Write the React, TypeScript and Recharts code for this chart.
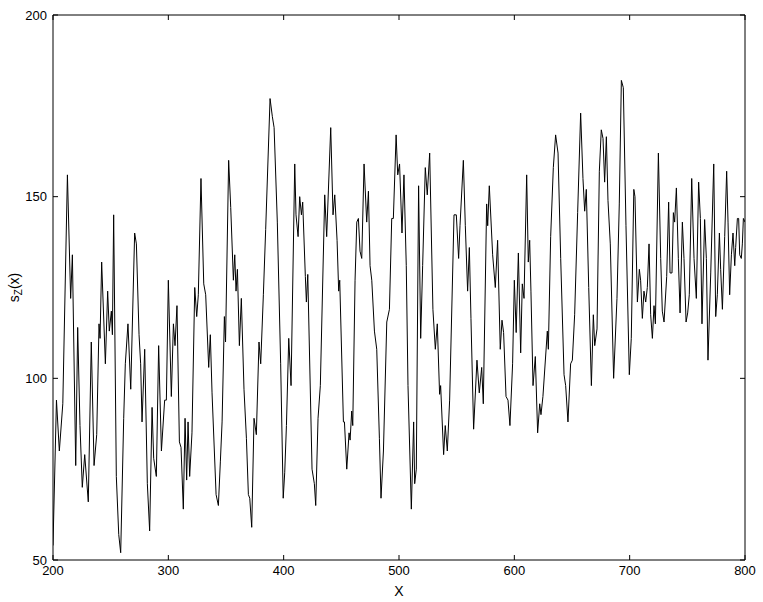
import { Line, LineChart, ReferenceArea, XAxis, YAxis } from "recharts";

const xTicks = [200, 300, 400, 500, 600, 700, 800];
const yTicks = [50, 100, 150, 200];

// position along x at each turning point
const xValues = [
  200, 203, 205.5, 208.5, 212.5, 215.3, 216.8, 219.7, 221.4, 223.4, 225.4,
  227.5, 230.6, 233.2, 235.6, 237.9, 239.9, 240.8, 242.2, 245.4, 247.4, 248.8,
  250.6, 251.5, 252.6, 254.9, 257, 258.7, 261.3, 262.7, 265, 267.4, 270.8,
  272.3, 274.6, 276, 277.2, 279.5, 281.8, 283.8, 285.9, 287.3, 289.6, 291.6,
  294, 296.8, 298.3, 300, 302.6, 304.4, 305.8, 307.5, 309.6, 311, 313, 314.5,
  315.9, 317.1, 318.5, 320.5, 322.9, 324.6, 326, 328.3, 330.7, 332.4, 335,
  336.4, 337.9, 339.9, 341.4, 343.4, 345.1, 346.6, 348.6, 349.6, 352.3, 354.1,
  356.4, 357.6, 358.7, 359.9, 361.6, 363.3, 365.6, 367.7, 369.4, 370.6, 372.3,
  374.3, 376.3, 378.6, 380.1, 382.4, 384.4, 388.2, 390.2, 391.7, 394.5, 397.4,
  399.6, 400.9, 402.4, 404.4, 406.4, 409.6, 410.7, 412.5, 413.9, 415.4, 416.5,
  418.8, 419.7, 420.9, 424.6, 426.6, 427.8, 429.8, 431.8, 435.6, 437.3, 440.8,
  442.8, 444.3, 446.3, 447.7, 448.6, 451.8, 452.7, 454.7, 456.7, 457.6, 459,
  459.9, 461.9, 463.4, 464.8, 466.2, 467.7, 469.7, 472, 473.5, 474.9, 476.4,
  478.7, 480.7, 483, 484.4, 486.5, 489.4, 491.7, 493.7, 495.1, 497.5, 498.9,
  500.5, 502.6, 504.3, 506.3, 507.8, 510.7, 512.7, 513.6, 515, 517, 518.8,
  520.5, 522.8, 524.5, 526.6, 529.4, 531.5, 533.2, 535.2, 536.1, 538.7, 540.1,
  541.9, 543.9, 547.7, 549.7, 551.7, 552.9, 555.8, 557.5, 559.5, 561, 562.4,
  564.7, 567.6, 569.6, 571.7, 573.1, 576, 576.9, 578.3, 581.2, 583.5, 585.5,
  587.8, 589.3, 590.7, 592.8, 594.5, 596.2, 598.5, 600, 601.6, 603.5, 605.5,
  606.9, 608.4, 610.7, 612.1, 613.3, 614.4, 616.2, 618.2, 620.2, 622, 623.1,
  624.8, 628.6, 629.5, 631.5, 633.8, 635.8, 637.9, 640.2, 643.1, 644.5, 646.5,
  648.8, 650.3, 652.3, 654.9, 657.5, 659.5, 661, 662.4, 664.5, 666.8, 668.5,
  669.7, 671.7, 673.7, 675.4, 676.9, 678.3, 679.8, 681.2, 683.2, 686.1, 689,
  691, 692.8, 694.5, 696.8, 699.7, 701.4, 703.6, 704.6, 706.7, 708.4, 709.5,
  711, 712.4, 713.9, 715.3, 716.8, 718.2, 719.7, 721.1, 722.3, 724.9, 726.9,
  728.3, 729.8, 732.1, 733.8, 735, 736.7, 737.9, 739, 740.5, 742.2, 743.7,
  745.7, 747.1, 748.9, 750.3, 751.7, 753.8, 755.8, 757.8, 759.8, 761.3, 762.7,
  765, 766.5, 767.9, 770.3, 772.9, 774.6, 776, 777.8, 778.9, 780.4, 782.4,
  784.1, 785.3, 786.7, 788.2, 789.6, 791.1, 791.9, 793.4, 794.5, 795.4, 796.8,
  797.7, 798.6, 800,
];

// s_Z(x) at the same positions
const szValues = [
  54, 94, 80, 93, 156, 122, 134, 76, 114, 87, 70,
  79, 66, 110, 76, 84.5, 115, 111, 132, 104, 124, 113,
  118.5, 112, 145, 73, 57, 52, 89, 104, 115, 97, 140,
  137, 112, 104, 88, 108, 71, 58, 92, 78, 73, 109,
  80, 94, 94, 127, 95, 115, 109, 120, 82.5, 81, 64, 89,
  72, 88, 73, 85, 125, 117, 123, 155, 126, 123, 103,
  112, 96, 80, 68, 65, 77, 88, 117, 110, 160, 147,
  127, 134, 124, 130, 109, 122, 97, 83.5, 68, 67, 59,
  89, 84.5, 110, 104, 123, 141, 177, 172, 169, 143, 104,
  67, 74, 87, 111, 98, 159, 145, 139, 150, 145, 148.5,
  128, 121, 128.6, 75, 71, 65, 89, 98, 150.5, 139, 169,
  145, 150.5, 138, 124, 127, 88, 88, 75, 85, 83, 91,
  87, 127, 143, 144, 135, 133, 159, 143, 151.5, 131, 127,
  113, 108, 83.5, 67, 80, 115.5, 119, 144, 144, 167, 156,
  159, 140, 156, 131, 98, 64, 88, 71, 75, 153, 111,
  131, 158, 150.5, 162, 119, 108, 115, 95.6, 98, 79, 87,
  80, 94, 145, 145, 133, 142, 160, 142, 124, 136, 116.5,
  86, 105, 96, 103, 93, 148, 142, 153, 134, 125, 138,
  108, 116, 112.6, 95, 94, 87, 104, 127, 112.6, 134.5, 107,
  126, 122, 156, 132, 138, 124, 98, 106, 85, 93, 90,
  95, 113, 108, 139, 158, 167, 162, 133, 101, 98, 88,
  104, 105, 117.5, 145.6, 173, 155, 146, 152, 125, 98, 117.5,
  109, 113.6, 157, 168.4, 166, 154, 166.5, 149, 137, 100, 122,
  148, 182, 180, 142, 101, 111, 152, 150, 121, 130, 127,
  116.5, 124, 121, 125, 137, 117.5, 111, 120, 115, 162, 133,
  118.5, 115.5, 128, 148.5, 129, 129, 145.6, 143, 152.4, 133, 118,
  143, 133, 115.5, 118, 123, 155, 133, 122, 154, 144, 115,
  143.7, 133, 105, 129, 159, 117, 123, 140, 130, 119, 139,
  157, 143, 123, 134, 140, 131, 136, 144, 144, 134, 133,
  137, 144, 143,
];

const data = xValues.map((x, i) => ({ x, sz: szValues[i] }));

const WIDTH = 763;
const HEIGHT = 602;
const MARGIN = { top: 15, right: 18, bottom: 6, left: 8 };
const Y_AXIS_WIDTH = 45;
const X_AXIS_HEIGHT = 36;
const PLOT_LEFT = MARGIN.left + Y_AXIS_WIDTH;
const PLOT_RIGHT = WIDTH - MARGIN.right;
const PLOT_TOP = MARGIN.top;
const PLOT_BOTTOM = HEIGHT - MARGIN.bottom - X_AXIS_HEIGHT;
const TICK_LEN = 5;

const font = "'Liberation Sans', Arial, Helvetica, sans-serif";

// tick label plus inward tick marks on both opposite edges
function XTick(props: any) {
  const { x, y, payload } = props;
  const cx = payload.coordinate;
  return (
    <g>
      <line x1={cx} x2={cx} y1={PLOT_BOTTOM} y2={PLOT_BOTTOM - TICK_LEN} stroke="#000" />
      <line x1={cx} x2={cx} y1={PLOT_TOP} y2={PLOT_TOP + TICK_LEN} stroke="#000" />
      <text x={x} y={y} dy="0.71em" textAnchor="middle" fontFamily={font} fontSize={13} fill="#000">
        {payload.value}
      </text>
    </g>
  );
}

function YTick(props: any) {
  const { x, y, payload } = props;
  const cy = payload.coordinate;
  return (
    <g>
      <line x1={PLOT_LEFT} x2={PLOT_LEFT + TICK_LEN} y1={cy} y2={cy} stroke="#000" />
      <line x1={PLOT_RIGHT} x2={PLOT_RIGHT - TICK_LEN} y1={cy} y2={cy} stroke="#000" />
      <text x={x} y={y} dy="0.355em" textAnchor="end" fontFamily={font} fontSize={13} fill="#000">
        {payload.value}
      </text>
    </g>
  );
}

function YAxisTitle(props: any) {
  const vb = props.viewBox;
  const cx = vb.x + 6;
  const cy = vb.y + vb.height / 2;
  return (
    <text
      x={cx}
      y={cy}
      transform={`rotate(-90 ${cx} ${cy})`}
      textAnchor="middle"
      dominantBaseline="central"
      fontFamily={font}
      fontSize={14}
      fill="#000"
    >
      s
      <tspan dy={4} fontSize={10}>
        Z
      </tspan>
      <tspan dy={-4}>(x)</tspan>
    </text>
  );
}

export default function App() {
  return (
    <div style={{ position: "absolute", left: 0, top: 0, background: "#fff" }}>
      <LineChart width={WIDTH} height={HEIGHT} data={data} margin={MARGIN}>
        <XAxis
          dataKey="x"
          type="number"
          domain={[200, 800]}
          ticks={xTicks}
          allowDataOverflow
          height={X_AXIS_HEIGHT}
          tickLine={false}
          axisLine={false}
          tickSize={0}
          tickMargin={6}
          tick={XTick}
          label={{
            value: "X",
            position: "insideBottom",
            offset: 0,
            style: { fontFamily: font, fontSize: 14, fill: "#000" },
          }}
        />
        <YAxis
          type="number"
          domain={[50, 200]}
          ticks={yTicks}
          allowDataOverflow
          width={Y_AXIS_WIDTH}
          tickLine={false}
          axisLine={false}
          tickSize={0}
          tickMargin={6}
          tick={YTick}
          label={YAxisTitle}
        />
        <ReferenceArea
          x1={200}
          x2={800}
          y1={50}
          y2={200}
          fill="none"
          stroke="#000"
          strokeWidth={1}
          fillOpacity={0}
        />
        <Line
          type="linear"
          dataKey="sz"
          stroke="#000"
          strokeWidth={1}
          dot={false}
          isAnimationActive={false}
        />
      </LineChart>
    </div>
  );
}
